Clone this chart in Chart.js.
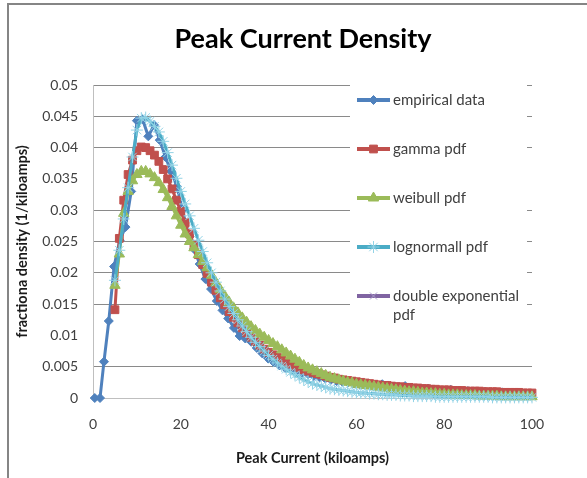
<!DOCTYPE html>
<html>
<head>
<meta charset="utf-8">
<script src="https://cdn.jsdelivr.net/npm/chart.js@4/dist/chart.umd.min.js"></script>
<style>
  html, body { margin: 0; padding: 0; background: #fff; overflow: hidden; }
  #frame { position: absolute; left: 7px; top: 3px; width: 700px; height: 600px;
           border-left: 2px solid #858585; border-top: 2px solid #858585; }
  #chart { position: absolute; left: 0; top: 0; }
</style>
</head>
<body>
<div id="frame"></div>
<canvas id="chart" width="587" height="478"></canvas>
<script>
const chartTitle = "Peak Current Density";
const seriesNames = ["empirical data", "gamma pdf", "weibull pdf", "lognormall pdf", "double exponential pdf"];
const yTickLabels = ["0", "0.005", "0.01", "0.015", "0.02", "0.025", "0.03", "0.035", "0.04", "0.045", "0.05"];
const xTickLabels = ["0", "20", "40", "60", "80", "100"];

// empirical histogram points
const empX = [0.4, 1.6, 2.5, 3.6, 4.8, 6.1, 7.4, 8.7, 10.0, 11.3, 12.6, 13.9, 15.2, 16.5, 17.8, 19.1,
  20.4, 21.7, 23.0, 24.3, 25.6, 26.9, 28.2, 29.5, 30.8, 32.1, 33.4, 34.7, 36.0, 37.3, 38.6, 39.9,
  41.2, 42.5, 43.8, 45.1, 46.4, 47.7, 49.0, 50.3, 51.6, 52.9, 54.2, 55.5, 56.8, 58.1, 59.4, 60.7,
  62.0, 63.3, 64.6, 65.9, 67.2, 68.5, 69.8, 71.1, 72.4, 73.7, 75.0, 76.3, 77.6, 78.9, 80.2, 81.5,
  82.8, 84.1, 85.4, 86.7, 88.0, 89.3, 90.6, 91.9, 93.2, 94.5, 95.8, 97.1, 98.4, 99.7];
const empY = [0, 0, 0.0058, 0.0123, 0.0210, 0.0252, 0.0273, 0.0330, 0.0443, 0.0445,
  0.0418, 0.0436, 0.0412, 0.0385, 0.0362, 0.0338, 0.0300, 0.0262, 0.0238, 0.0214,
  0.0190, 0.0174, 0.0155, 0.0140, 0.0127, 0.0112, 0.0099, 0.0095, 0.0090, 0.0080,
  0.0071, 0.0063, 0.0057, 0.0052, 0.0048, 0.0046, 0.0043, 0.0040, 0.0038, 0.0035,
  0.0033, 0.0031, 0.0029, 0.0027, 0.0026, 0.0025, 0.0023, 0.0022, 0.0021, 0.0021,
  0.0020, 0.0022, 0.0020, 0.0018, 0.0017, 0.0019, 0.0016, 0.0015, 0.0014, 0.0015,
  0.0013, 0.0012, 0.0012, 0.0013, 0.0011, 0.0010, 0.0011, 0.0009, 0.0009, 0.0010,
  0.0008, 0.0008, 0.0009, 0.0008, 0.0007, 0.0008, 0.0007, 0.0007];

// fitted pdfs, x = 5..100
const fitX = [5, 6, 7, 8, 9, 10, 11, 12, 13, 14, 15, 16, 17, 18, 19, 20, 21, 22, 23, 24, 25, 26, 27, 28,
  29, 30, 31, 32, 33, 34, 35, 36, 37, 38, 39, 40, 41, 42, 43, 44, 45, 46, 47, 48, 49, 50, 51, 52,
  53, 54, 55, 56, 57, 58, 59, 60, 61, 62, 63, 64, 65, 66, 67, 68, 69, 70, 71, 72, 73, 74, 75, 76,
  77, 78, 79, 80, 81, 82, 83, 84, 85, 86, 87, 88, 89, 90, 91, 92, 93, 94, 95, 96, 97, 98, 99, 100];
const gammaY = [0.0141, 0.0255, 0.0316, 0.0357, 0.0380, 0.0395, 0.0401, 0.0400, 0.0395, 0.0388,
  0.0378, 0.0365, 0.0350, 0.0334, 0.0316, 0.0298, 0.0280, 0.0262, 0.0245, 0.0229,
  0.0213, 0.0199, 0.0185, 0.0172, 0.0160, 0.0149, 0.0138, 0.0129, 0.0120, 0.0112,
  0.0104, 0.0097, 0.0090, 0.0084, 0.0078, 0.0073, 0.0069, 0.0065, 0.0061, 0.0057,
  0.0054, 0.0051, 0.0048, 0.0045, 0.0043, 0.0041, 0.0039, 0.0037, 0.0035, 0.0033,
  0.0032, 0.0030, 0.0029, 0.0028, 0.0027, 0.0026, 0.0025, 0.0024, 0.0023, 0.0022,
  0.0021, 0.0020, 0.0020, 0.0019, 0.0018, 0.0018, 0.0017, 0.0017, 0.0016, 0.0016,
  0.0015, 0.0015, 0.0014, 0.0014, 0.0013, 0.0013, 0.0013, 0.0012, 0.0012, 0.0012,
  0.0011, 0.0011, 0.0011, 0.0011, 0.0010, 0.0010, 0.0010, 0.0010, 0.0009, 0.0009,
  0.0009, 0.0009, 0.0009, 0.0008, 0.0008, 0.0008];
const weibullY = [0.0180, 0.0230, 0.0295, 0.0330, 0.0347, 0.0357, 0.0362, 0.0362, 0.0358, 0.0352,
  0.0344, 0.0333, 0.0320, 0.0306, 0.0291, 0.0276, 0.0262, 0.0250, 0.0240, 0.0229,
  0.0218, 0.0208, 0.0196, 0.0184, 0.0173, 0.0163, 0.0153, 0.0144, 0.0136, 0.0128,
  0.0121, 0.0114, 0.0108, 0.0102, 0.0097, 0.0092, 0.0087, 0.0082, 0.0077, 0.0072,
  0.0067, 0.0062, 0.0057, 0.0052, 0.0048, 0.0045, 0.0042, 0.0039, 0.0036, 0.0033,
  0.0031, 0.0029, 0.0027, 0.0025, 0.0024, 0.0022, 0.0021, 0.0020, 0.0019, 0.0018,
  0.0017, 0.0016, 0.0015, 0.0014, 0.0013, 0.0012, 0.0011, 0.0010, 0.0010, 0.0009,
  0.0008, 0.0008, 0.0007, 0.0007, 0.0006, 0.0006, 0.0005, 0.0005, 0.0005, 0.0004,
  0.0004, 0.0004, 0.0004, 0.0003, 0.0003, 0.0003, 0.0003, 0.0003, 0.0002, 0.0002,
  0.0002, 0.0002, 0.0002, 0.0002, 0.0002, 0.0002];
const lognormY = [0.0188, 0.0236, 0.0286, 0.0336, 0.0385, 0.0428, 0.0447, 0.0448, 0.0442, 0.0434,
  0.0425, 0.0410, 0.0392, 0.0372, 0.0351, 0.0330, 0.0310, 0.0291, 0.0271, 0.0252,
  0.0234, 0.0216, 0.0200, 0.0185, 0.0171, 0.0158, 0.0146, 0.0135, 0.0125, 0.0115,
  0.0106, 0.0097, 0.0089, 0.0082, 0.0075, 0.0068, 0.0062, 0.0056, 0.0051, 0.0046,
  0.0041, 0.0037, 0.0033, 0.0029, 0.0026, 0.0023, 0.0021, 0.0019, 0.0017, 0.0015,
  0.0014, 0.0013, 0.0012, 0.0011, 0.0010, 0.0009, 0.0008, 0.0008, 0.0007, 0.0007,
  0.0006, 0.0006, 0.0005, 0.0005, 0.0005, 0.0004, 0.0004, 0.0004, 0.0003, 0.0003,
  0.0003, 0.0003, 0.0003, 0.0002, 0.0002, 0.0002, 0.0002, 0.0002, 0.0002, 0.0002,
  0.0002, 0.0002, 0.0002, 0.0002, 0.0002, 0.0002, 0.0001, 0.0001, 0.0001, 0.0001,
  0.0001, 0.0001, 0.0001, 0.0001, 0.0001, 0.0001];
const dexpY = [];

const FONT = "Lato, 'Liberation Sans', sans-serif";

function pts(xs, ys) {
  return ys.map((y, i) => ({ x: xs[i], y: y }));
}

function series(label, data, color, marker, radius, markerColor, order) {
  return {
    label: label,
    data: data,
    showLine: true,
    borderColor: color,
    borderWidth: 3,
    pointStyle: marker,
    pointRadius: radius,
    pointBackgroundColor: markerColor,
    pointBorderColor: markerColor,
    pointBorderWidth: 1,
    order: order,
    clip: false
  };
}

const datasets = [
  series(seriesNames[0], pts(empX, empY), "#4F81BD", "rectRot", 4.5, "#4F81BD", 4),
  series(seriesNames[1], pts(fitX, gammaY), "#C0504D", "rect", 5.5, "#C0504D", 3),
  series(seriesNames[2], pts(fitX, weibullY), "#9BBB59", "triangle", 6, "#9BBB59", 2),
  series(seriesNames[3], pts(fitX, lognormY), "#4BACC6", "star", 6, "#93D3E6", 1),
  series(seriesNames[4], pts(fitX, dexpY), "#8064A2", "crossRot", 5, "#A99BC9", 0)
];

function wrapText(ctx, text, maxWidth) {
  const words = text.split(" ");
  const lines = [];
  let cur = "";
  for (const w of words) {
    const test = cur ? cur + " " + w : w;
    if (ctx.measureText(test).width > maxWidth && cur) {
      lines.push(cur);
      cur = w;
    } else {
      cur = test;
    }
  }
  if (cur) lines.push(cur);
  return lines;
}

// chart title, centred over the whole chart box
const titlePlugin = {
  id: "pageTitle",
  afterDraw(chart) {
    const ctx = chart.ctx;
    ctx.save();
    ctx.font = "bold 27px " + FONT;
    ctx.fillStyle = "#000";
    ctx.textAlign = "center";
    ctx.textBaseline = "middle";
    ctx.fillText(chartTitle, 303, 39);
    ctx.restore();
  }
};

const sideLegend = {
  id: "sideLegend",
  afterDraw(chart) {
    const ctx = chart.ctx;
    const box = { left: 350, top: 84, width: 177, height: 256 };
    const firstY = 100, stepY = 49, lineH = 19;
    const sampleL = 357, sampleR = 390, textX = 393;
    ctx.save();
    ctx.fillStyle = "#fff";
    ctx.fillRect(box.left, box.top, box.width, box.height);
    ctx.font = "15px " + FONT;
    ctx.textBaseline = "middle";
    chart.data.datasets.forEach((ds, i) => {
      const y = firstY + i * stepY;
      ctx.strokeStyle = ds.borderColor;
      ctx.lineWidth = 4;
      ctx.beginPath();
      ctx.moveTo(sampleL, y);
      ctx.lineTo(sampleR, y);
      ctx.stroke();
      ctx.fillStyle = ds.pointBackgroundColor;
      ctx.strokeStyle = ds.pointBorderColor;
      ctx.lineWidth = 1;
      Chart.helpers.drawPoint(ctx, { pointStyle: ds.pointStyle, radius: ds.pointRadius, rotation: 0, borderWidth: 1 },
        (sampleL + sampleR) / 2, y);
      ctx.fillStyle = "#404040";
      const lines = wrapText(ctx, ds.label, 134);
      lines.forEach((ln, j) => ctx.fillText(ln, textX, y + j * lineH));
    });
    ctx.restore();
  }
};

new Chart(document.getElementById("chart"), {
  type: "scatter",
  data: { datasets: datasets },
  plugins: [titlePlugin, sideLegend],
  options: {
    responsive: false,
    animation: false,
    layout: { padding: { left: 0, right: 55, top: 85, bottom: 0 } },
    plugins: {
      legend: { display: false },
      tooltip: { enabled: false },
      title: { display: false }
    },
    scales: {
      x: {
        type: "linear",
        min: 0,
        max: 100,
        afterFit: s => { s.height = 80; },
        ticks: {
          stepSize: 20,
          padding: 18,
          color: "#404040",
          font: { family: FONT, size: 14 },
          callback: (v, i) => xTickLabels[i]
        },
        grid: { display: false, drawTicks: false },
        border: { display: true, color: "#bfbfbf", width: 1 },
        title: {
          display: true,
          text: "Peak Current (kiloamps)",
          color: "#1a1a1a",
          font: { family: FONT, size: 14.5, weight: "bold" },
          padding: { top: 0, bottom: 11 }
        }
      },
      y: {
        type: "linear",
        min: 0,
        max: 0.05,
        afterFit: s => { s.width = 93; },
        ticks: {
          stepSize: 0.005,
          padding: 15,
          color: "#404040",
          font: { family: FONT, size: 14 },
          callback: (v, i) => yTickLabels[i]
        },
        grid: {
          drawTicks: false,
          lineWidth: 1,
          color: ctx => (ctx.index === 0 || ctx.index === 2 || ctx.index === 7) ? "rgba(0,0,0,0)" : "#8a8a8a"
        },
        border: { display: true, color: "#bfbfbf", width: 1 },
        title: {
          display: true,
          text: "fractiona density (1/kiloamps)",
          color: "#1a1a1a",
          font: { family: FONT, size: 14.5, weight: "bold" },
          padding: { top: 14, bottom: 0 }
        }
      }
    }
  }
});
</script>
</body>
</html>
